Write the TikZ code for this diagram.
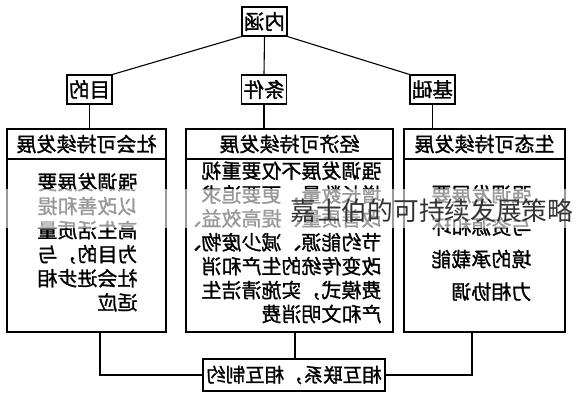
\documentclass[tikz,border=0pt]{standalone}
\usepackage{fontspec}
\usepackage{graphicx}
\newfontfamily\cjk[RawFeature={embolden=1.2}]{Noto Sans CJK SC}
\newfontfamily\cjkwm{Noto Sans CJK SC}
\newcommand\mirtext[1]{\reflectbox{#1}}
\newcommand\mirlines[2]{\reflectbox{\fontsize{20}{#1}\selectfont\begin{tabular}{@{}l@{}}#2\end{tabular}}}
\tikzset{
  every path/.style={line width=1.1pt},
  topbox/.style={draw, line width=1.1pt, minimum width=45pt, minimum height=29pt, inner sep=0pt, font=\cjk\fontsize{20.5}{24}\selectfont},
  bigbox/.style={draw, line width=1.1pt, minimum height=203pt, inner sep=0pt},
  headbox/.style={draw, line width=1.1pt, minimum height=30pt, inner sep=0pt, anchor=north, font=\cjk\fontsize{20}{24}\selectfont},
  bodytext/.style={anchor=east, inner sep=0pt, font=\cjk},
  link/.style={draw, line width=1.1pt}
}
\begin{document}
\begin{tikzpicture}[x=1pt, y=-1pt]
\useasboundingbox (0,0) rectangle (576,400);
\fill[white] (0,0) rectangle (576,400);
% top level
\node[topbox] (neihan) at (264.5,21.5) {\mirtext{内涵}};
\node[topbox] (mudi) at (89.5,89.5) {\mirtext{目的}};
\node[topbox] (tiaojian) at (264,89.5) {\mirtext{条件}};
\node[topbox] (jichu) at (432.5,89.5) {\mirtext{基础}};
% big boxes
\node[bigbox, minimum width=159pt] (leftbox) at (86.5,230.5) {};
\node[bigbox, minimum width=207pt] (midbox) at (289.5,230.5) {};
\node[bigbox, minimum width=161pt] (rightbox) at (484.5,230.5) {};
\node[headbox, minimum width=159pt] (lefthead) at (leftbox.north) {\mirtext{社会可持续发展}};
\node[headbox, minimum width=207pt] (midhead) at (midbox.north) {\mirtext{经济可持续发展}};
\node[headbox, minimum width=161pt] (righthead) at (rightbox.north) {\mirtext{生态可持续发展}};
% body texts
\node[bodytext] (lefttext) at (138,245) {\mirlines{24}{强调发展要\\以改善和提\\高生活质量\\为目的，与\\社会进步相\\适应}};
\node[bodytext] (midtext) at (382,245) {\mirlines{23.2}{强调发展不仅要重视\\增长数量，更要追求\\改善质量、提高效益、\\节约能源、减少废物、\\改变传统的生产和消\\费模式，实施清洁生\\产和文明消费}};
\node[bodytext] (righttext) at (532,244) {\mirlines{32.5}{强调发展要\\与资源和环\\境的承载能\\力相协调}};
% bottom box
\node[draw, line width=1.1pt, minimum width=182pt, minimum height=32pt, inner sep=0pt, font=\cjk\fontsize{19.5}{24}\selectfont] (bottom) at (294,375) {\mirtext{相互联系，相互制约}};
% connectors
\draw (neihan.south west) -- (mudi.north east);
\draw (neihan.south) -- (tiaojian.north);
\draw (neihan.south east) -- (jichu.north west);
\draw (mudi.south) -- (leftbox.north -| mudi.south);
\draw (tiaojian.south) -- (midbox.north -| tiaojian.south);
\draw (jichu.south) -- (rightbox.north -| jichu.south);
\coordinate (bl) at (100,0);
\coordinate (bm) at (295,0);
\coordinate (br) at (472,0);
\draw (leftbox.south -| bl) |- (bottom.west);
\draw (midbox.south -| bm) -- (bottom.north -| bm);
\draw (rightbox.south -| br) |- (bottom.east);
% watermark
\fill[white, opacity=0.6] (0,189) rectangle (576,228);
\node[anchor=west, inner sep=0pt, text=black!80, font=\cjkwm\fontsize{25.7}{30}\selectfont] (wm) at (290,211) {嘉士伯的可持续发展策略};
\end{tikzpicture}
\end{document}
